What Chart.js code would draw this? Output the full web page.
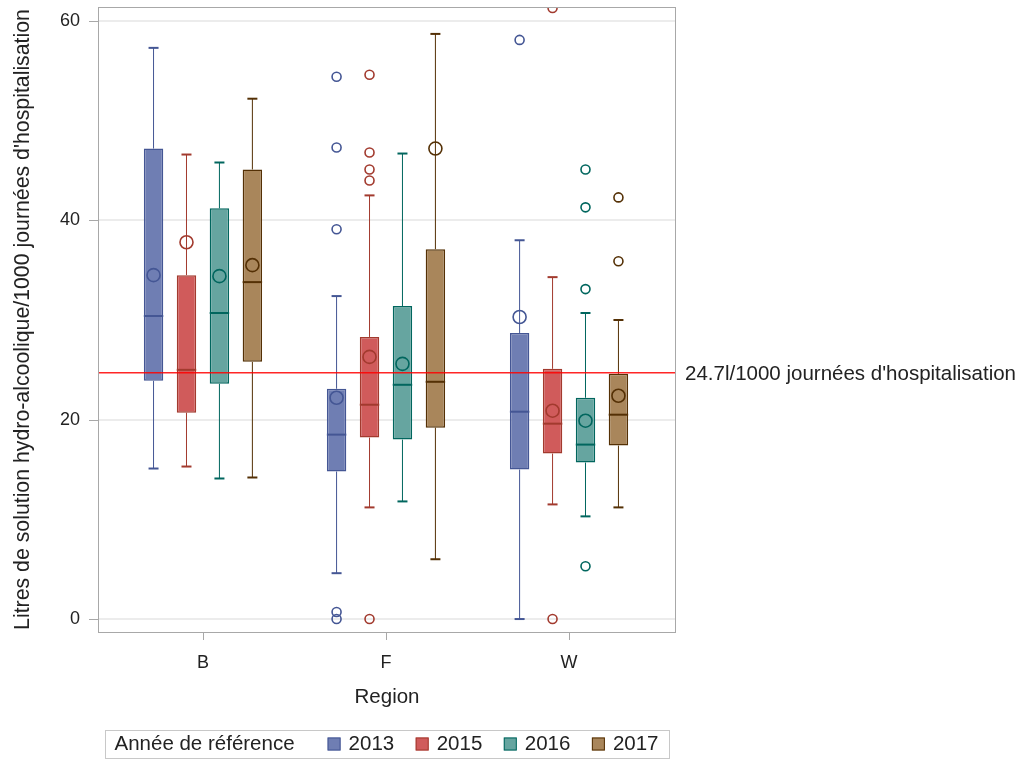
<!DOCTYPE html>
<html>
<head>
<meta charset="utf-8">
<script src="https://cdn.jsdelivr.net/npm/chart.js@4.4.0/dist/chart.umd.min.js"></script>
<style>
  html, body { margin: 0; background: #fff; }
  #wrap { width: 1024px; height: 760px; }
</style>
</head>
<body>
<div id="wrap"><canvas id="chart"></canvas></div>
<script>
const regions = ['B', 'F', 'W'];
const years = ['2013', '2015', '2016', '2017'];

// one row per year, one value per region (B, F, W)
const whiskerLow  = [[15.1, 4.6, 0.0], [15.3, 11.2, 11.5], [14.1, 11.8, 10.3], [14.2, 6.0, 11.2]];
const q1          = [[23.9, 14.8, 15.0], [20.7, 18.2, 16.6], [23.6, 18.0, 15.7], [25.8, 19.2, 17.4]];
const median      = [[30.4, 18.5, 20.8], [25.0, 21.5, 19.6], [30.7, 23.5, 17.5], [33.8, 23.8, 20.5]];
const q3          = [[47.2, 23.1, 28.7], [34.5, 28.3, 25.1], [41.2, 31.4, 22.2], [45.1, 37.1, 24.6]];
const whiskerHigh = [[57.3, 32.4, 38.0], [46.6, 42.5, 34.3], [45.8, 46.7, 30.7], [52.2, 58.7, 30.0]];
const means       = [[34.5, 22.2, 30.3], [37.8, 26.3, 20.9], [34.4, 25.6, 19.9], [35.5, 47.2, 22.4]];
const outliers = [
  [[], [54.4, 47.3, 39.1, 0.7, 0.0], [58.1]],
  [[], [54.6, 46.8, 45.1, 44.0, 0.0], [61.3, 0.0]],
  [[], [], [45.1, 41.3, 33.1, 5.3]],
  [[], [], [42.3, 35.9]]
];

const refValue = 24.7;
const refLabel = "24.7l/1000 journées d'hospitalisation";
const legendTitle = 'Année de référence';

const fills = ['#6F7EB3', '#D05B5B', '#66A5A0', '#A9865B'];
const lines = ['#445694', '#A23A2E', '#01665E', '#543005'];

const FONT = '"Liberation Sans", Arial, sans-serif';
const frameColor = '#a8a8a8';
Chart.defaults.font.family = FONT;
Chart.defaults.color = '#333';

function seg(ctx, x1, y1, x2, y2) {
  ctx.beginPath();
  ctx.moveTo(x1, y1);
  ctx.lineTo(x2, y2);
  ctx.stroke();
}

function ring(ctx, x, y, r) {
  ctx.beginPath();
  ctx.arc(x, y, r, 0, Math.PI * 2);
  ctx.stroke();
}

// whiskers, medians, means, outliers, reference line, frame and legend
const boxPlugin = {
  id: 'boxes',
  afterDatasetsDraw(chart) {
    const { ctx, chartArea: a } = chart;
    const y = chart.scales.y;
    ctx.save();
    ctx.beginPath();
    ctx.rect(a.left, a.top, a.right - a.left, a.bottom - a.top);
    ctx.clip();

    chart.data.datasets.forEach((ds, d) => {
      const meta = chart.getDatasetMeta(d);
      meta.data.forEach((bar, i) => {
        const { x, width } = bar.getProps(['x', 'width'], true);
        const half = width / 2;
        ctx.strokeStyle = lines[d];

        ctx.lineWidth = 1;
        seg(ctx, x, y.getPixelForValue(q3[d][i]), x, y.getPixelForValue(whiskerHigh[d][i]));
        seg(ctx, x, y.getPixelForValue(q1[d][i]), x, y.getPixelForValue(whiskerLow[d][i]));

        ctx.lineWidth = 2;
        const hi = y.getPixelForValue(whiskerHigh[d][i]);
        const lo = y.getPixelForValue(whiskerLow[d][i]);
        seg(ctx, x - 5, hi, x + 5, hi);
        seg(ctx, x - 5, lo, x + 5, lo);
        const med = y.getPixelForValue(median[d][i]);
        seg(ctx, x - half, med, x + half, med);

        ctx.lineWidth = 1.6;
        ring(ctx, x, y.getPixelForValue(means[d][i]), 6.5);
        outliers[d][i].forEach(v => ring(ctx, x, y.getPixelForValue(v), 4.5));
      });
    });

    const ry = y.getPixelForValue(refValue);
    ctx.strokeStyle = 'rgba(255, 0, 0, 0.85)';
    ctx.lineWidth = 1.5;
    seg(ctx, a.left, ry, a.right, ry);
    ctx.restore();

    ctx.save();
    ctx.fillStyle = '#222';
    ctx.font = '20.5px ' + FONT;
    ctx.textBaseline = 'middle';
    ctx.fillText(refLabel, a.right + 10, ry + 2);
    ctx.restore();
  },
  afterDraw(chart) {
    const { ctx, chartArea: a } = chart;
    const x = chart.scales.x;
    const y = chart.scales.y;
    ctx.save();
    ctx.strokeStyle = frameColor;
    ctx.lineWidth = 1;
    ctx.strokeRect(Math.round(a.left) - 0.5, Math.round(a.top) + 0.5,
      Math.round(a.right - a.left) + 1, Math.round(a.bottom - a.top));

    y.ticks.forEach((t, k) => {
      const py = Math.round(y.getPixelForTick(k)) + 0.5;
      seg(ctx, a.left - 10, py, a.left, py);
    });
    x.ticks.forEach((t, k) => {
      const px = Math.round(x.getPixelForTick(k)) + 0.5;
      seg(ctx, px, a.bottom, px, a.bottom + 8);
    });

    // legend
    ctx.font = '20.5px ' + FONT;
    ctx.textBaseline = 'middle';
    const dsets = chart.data.datasets;
    const pad = 9, gapTitle = 33, sw = 13, gapSw = 8, gapItem = 21.5, padR = 11.5;
    let w = pad + ctx.measureText(legendTitle).width + gapTitle;
    dsets.forEach((ds, k) => {
      w += sw + gapSw + ctx.measureText(ds.label).width + (k < dsets.length - 1 ? gapItem : 0);
    });
    w += padR;
    const top = 730, h = 28, cy = top + h / 2;
    let lx = Math.round((a.left + a.right) / 2 - w / 2) + 0.5;
    ctx.strokeStyle = '#c8c8c8';
    ctx.strokeRect(lx, top + 0.5, Math.round(w), h);
    ctx.fillStyle = '#222';
    let cx = lx + pad;
    ctx.fillText(legendTitle, cx, cy);
    cx += ctx.measureText(legendTitle).width + gapTitle;
    dsets.forEach((ds, k) => {
      ctx.fillStyle = ds.backgroundColor;
      ctx.fillRect(cx, cy - sw / 2, sw, sw);
      ctx.strokeStyle = ds.borderColor;
      ctx.lineWidth = 1;
      ctx.strokeRect(cx + 0.5, cy - sw / 2 + 0.5, sw - 1, sw - 1);
      cx += sw + gapSw;
      ctx.fillStyle = '#222';
      ctx.fillText(ds.label, cx, cy);
      cx += ctx.measureText(ds.label).width + gapItem;
    });
    ctx.restore();
  }
};

const datasets = years.map((yr, d) => ({
  label: yr,
  data: regions.map((r, i) => ({ x: i, y: [q1[d][i], q3[d][i]] })),
  backgroundColor: fills[d],
  borderColor: lines[d],
  borderWidth: 1.5,
  borderSkipped: false,
  categoryPercentage: 0.72,
  barPercentage: 0.59
}));

new Chart(document.getElementById('chart'), {
  type: 'bar',
  data: { datasets },
  options: {
    responsive: true,
    maintainAspectRatio: false,
    animation: false,
    layout: { padding: { left: 0, top: 7, right: 349, bottom: 33 } },
    plugins: {
      legend: { display: false },
      tooltip: { enabled: false }
    },
    scales: {
      x: {
        type: 'linear',
        offset: false,
        min: -0.568,
        max: 2.579,
        grid: { display: false, drawTicks: false, offset: false },
        border: { display: false },
        ticks: {
          stepSize: 1,
          includeBounds: false,
          padding: 20,
          font: { size: 18 },
          color: '#222',
          callback: v => regions[v] ?? ''
        },
        title: {
          display: true,
          text: 'Region',
          font: { size: 20.5 },
          color: '#222',
          padding: { top: 0, bottom: 17 }
        },
        afterFit: s => { s.height = 95; s.paddingLeft = 0; s.paddingRight = 0; }
      },
      y: {
        min: -1.3,
        max: 61.4,
        grid: { color: '#ececec', lineWidth: 2, drawTicks: false },
        border: { display: false },
        ticks: {
          stepSize: 20,
          includeBounds: false,
          padding: 19,
          font: { size: 18 },
          color: '#222'
        },
        title: {
          display: true,
          text: "Litres de solution hydro-alcoolique/1000 journées d'hospitalisation",
          font: { size: 21.3 },
          color: '#222',
          padding: { top: 10, bottom: 0 }
        },
        afterFit: s => { s.width = 99; s.paddingTop = 0; s.paddingBottom = 0; }
      }
    }
  },
  plugins: [boxPlugin]
});
</script>
</body>
</html>
